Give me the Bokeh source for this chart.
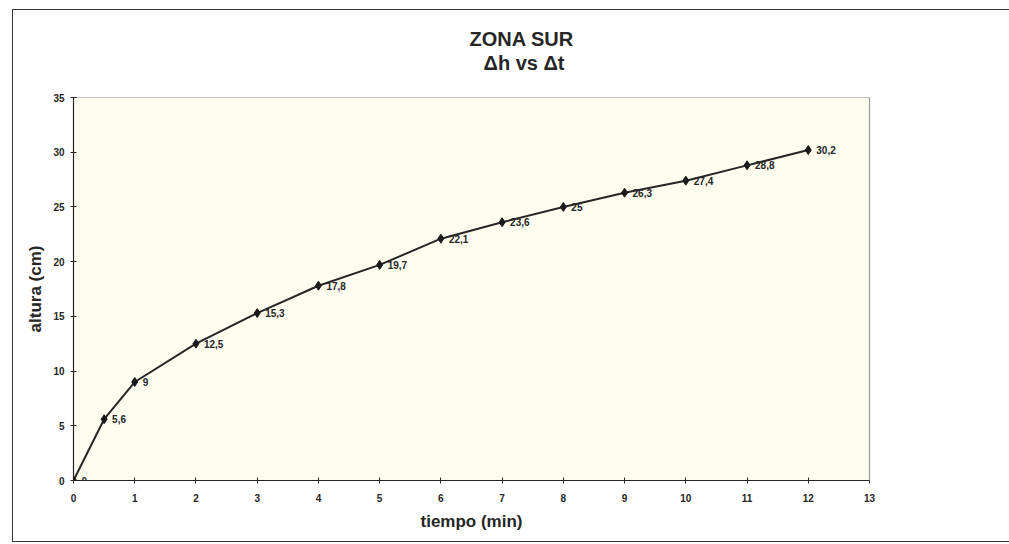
from bokeh.plotting import figure
from bokeh.models import ColumnDataSource, Range1d, FixedTicker, LabelSet, Title, LinearAxis
from bokeh.core.properties import value
from bokeh.embed import file_html
from bokeh.resources import INLINE

tiempo = [0, 0.5, 1, 2, 3, 4, 5, 6, 7, 8, 9, 10, 11, 12]
altura = [0, 5.6, 9, 12.5, 15.3, 17.8, 19.7, 22.1, 23.6, 25, 26.3, 27.4, 28.8, 30.2]
etiquetas = ["0", "5,6", "9", "12,5", "15,3", "17,8", "19,7", "22,1", "23,6", "25", "26,3", "27,4", "28,8", "30,2"]
x_ticks = list(range(0, 14))
y_ticks = [0, 5, 10, 15, 20, 25, 30, 35]

FONT = "Liberation Sans"
INK = "#262626"

src = ColumnDataSource(dict(x=tiempo, y=altura, lab=etiquetas))

p = figure(width=997, height=533, output_backend="svg", toolbar_location=None,
           x_range=Range1d(0, 13), y_range=Range1d(0, 35),
           min_border_left=60, min_border_right=141, min_border_top=87, min_border_bottom=63)
p.styles = {"border-left": "1.5px solid #333", "border-top": "1.5px solid #333",
            "border-bottom": "1.5px solid #333", "box-sizing": "border-box",
            "margin-left": "12px", "margin-top": "9px"}
p.title.visible = False
p.background_fill_color = "#FEFEF0"
p.border_fill_color = "white"
p.outline_line_color = "#8a8a8a"
p.outline_line_dash = "1 1"
p.outline_line_width = 1
p.xgrid.visible = False
p.ygrid.visible = False

for ax in (p.xaxis, p.yaxis):
    ax.axis_line_color = INK
    ax.axis_line_width = 1.2
    ax.major_tick_line_color = INK
    ax.major_tick_in = 3
    ax.major_tick_out = 3
    ax.minor_tick_line_color = None
    ax.major_label_text_font = FONT
    ax.major_label_text_font_size = "10px"
    ax.major_label_text_font_style = "bold"
    ax.major_label_text_color = INK
    ax.axis_label_text_font = FONT
    ax.axis_label_text_font_size = "17px"
    ax.axis_label_text_font_style = "bold"
    ax.axis_label_text_color = INK

p.xaxis.ticker = FixedTicker(ticks=x_ticks)
p.yaxis.ticker = FixedTicker(ticks=y_ticks)
p.xaxis.axis_label = "tiempo (min)"
p.yaxis.axis_label = "altura (cm)"
p.xaxis.major_label_standoff = 10
p.yaxis.major_label_standoff = 6
p.xaxis.axis_label_standoff = 7
p.yaxis.axis_label_standoff = 5

right_axis = LinearAxis(axis_line_color="#9a9a9a", axis_line_width=1.2,
                        major_tick_line_color=None, minor_tick_line_color=None,
                        major_label_text_font_size="0px")
right_axis.ticker = FixedTicker(ticks=[])
p.add_layout(right_axis, "right")

# blank spacer between the plot frame and the title lines (white tick on white, empty label)
spacer = LinearAxis(axis_line_color=None, major_tick_line_color="white", minor_tick_line_color=None,
                    major_tick_out=24, major_tick_in=0, major_label_standoff=0,
                    major_label_text_font_size="1px", major_label_overrides={0: ""})
spacer.ticker = FixedTicker(ticks=[0])
p.add_layout(spacer, "above")

p.line("x", "y", source=src, line_color=INK, line_width=2)
p.scatter("x", "y", source=src, marker="diamond", size=9, color="#1a1a1a")

labels = LabelSet(x="x", y="y", text="lab", source=src, x_offset=8, y_offset=0,
                  text_font=value(FONT), text_font_size=value("10px"), text_font_style="bold",
                  text_color=INK, text_baseline="middle", text_align="left")
p.add_layout(labels)

sub = Title(text="Δh vs Δt", align="left", offset=410, standoff=0,
            text_font=FONT, text_font_size="20px", text_font_style="bold", text_color=INK)
main = Title(text="ZONA SUR", align="left", offset=396, standoff=0,
             text_font=FONT, text_font_size="20px", text_font_style="bold", text_color=INK)
p.add_layout(sub, "above")
p.add_layout(main, "above")

open("out.html", "w").write(file_html(p, INLINE))
